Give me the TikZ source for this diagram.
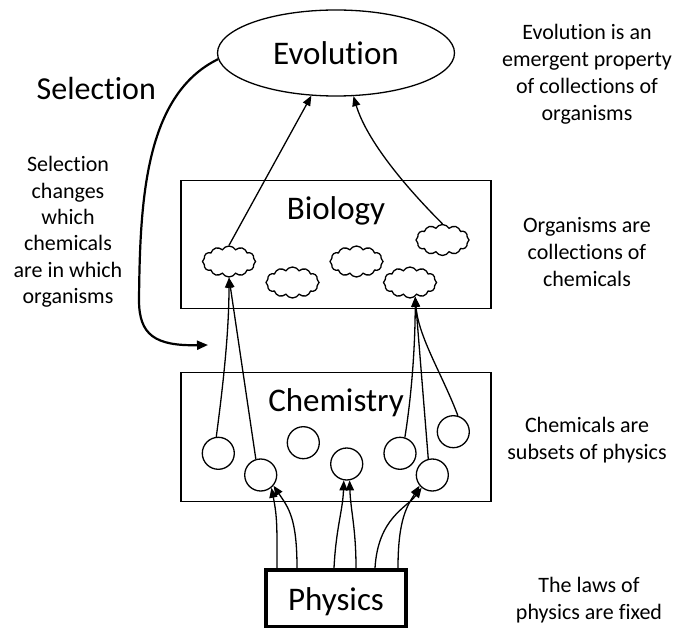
\documentclass[tikz,border=0pt]{standalone}
\usepackage{fontspec}
\setmainfont{Carlito}[Ligatures={NoCommon}]
\usetikzlibrary{shapes.geometric,shapes.symbols,arrows.meta}
\begin{document}
\begin{tikzpicture}[x=1pt,y=-1pt,
  arr/.style={line width=1.3pt,-{Triangle[length=10pt,width=8pt]}},
  bigtext/.style={font=\fontsize{33}{40}\selectfont, inner sep=0pt},
  note/.style={font=\fontsize{22}{27}\selectfont, align=center, inner sep=0pt},
  layer/.style={draw, line width=1.3pt, minimum width=310pt, minimum height=127.5pt, inner sep=0pt},
  molecule/.style={draw, circle, line width=1.3pt, minimum size=32pt, inner sep=0pt},
  organism/.style={draw, cloud, cloud puffs=12, cloud puff arc=120, aspect=1.7,
    minimum width=53pt, minimum height=31pt, inner sep=0pt, line width=1.3pt}
]
\useasboundingbox (0,0) rectangle (674,628);
\fill[white] (0,0) rectangle (674,628);

% top level: evolution
\node[draw, ellipse, line width=1.3pt, minimum width=237pt, minimum height=86pt, bigtext] (evo) at (336,53) {Evolution};
\node[bigtext, font=\fontsize{32}{38}\selectfont, anchor=base west] (sellabel) at (36.5,100) {Selection};

% biology layer with organisms
\node[layer] (bio) at (336,244.5) {};
\node[bigtext, anchor=base] (biolabel) at (336,220) {Biology};
\node[organism] (k1) at (229,261.5) {};
\node[organism] (k2) at (292.5,282.5) {};
\node[organism] (k3) at (356.5,261.5) {};
\node[organism] (k4) at (442.5,240) {};
\node[organism] (k5) at (410,282.5) {};

% chemistry layer with molecules
\node[layer, minimum height=128.5pt] (chem) at (336,437) {};
\node[bigtext, anchor=base] (chemlabel) at (336,411.7) {Chemistry};
\node[molecule] (c1) at (218.3,453.3) {};
\node[molecule] (c2) at (260.7,475) {};
\node[molecule] (c3) at (303.3,442.7) {};
\node[molecule] (c4) at (346.7,464) {};
\node[molecule] (c5) at (400,453.3) {};
\node[molecule] (c6) at (432.3,475) {};
\node[molecule] (c7) at (453.3,431.7) {};

% physics
\node[draw, line width=4pt, minimum width=140pt, minimum height=57pt, bigtext,
  text height=23pt, text depth=0pt] (phys) at (336,598.5) {Physics};

% side notes
\node[note] (evonote) at (587,74) {Evolution is an\\emergent property\\of collections of\\organisms};
\node[note] (orgnote) at (587,252.5) {Organisms are\\collections of\\chemicals};
\node[note] (chemnote) at (587,440.5) {Chemicals are\\subsets of physics};
\node[note] (physnote) at (589,600) {The laws of\\physics are fixed};
\node[note, font=\fontsize{22}{26.4}\selectfont] (selnote) at (68,232) {Selection\\changes\\which\\chemicals\\are in which\\organisms};

% molecules make up organisms
\draw[arr] (c1.97) .. controls +(8,-60) and +(0,50) .. (k1.south);
\draw[arr] (c2.107) -- (k1.south);
\draw[arr] (c5.73) .. controls +(8,-50) and +(0,40) .. (k5.-70);
\draw[arr] (c6.104) -- (k5.-70);
\draw[arr] (c7.74) .. controls +(-15,-40) and +(3,40) .. (k5.-70);

% organisms give rise to evolution
\draw[arr] (k1.north) -- (evo.240);
\draw[arr] (k4.north) .. controls +(-45,-45) and +(12,40) .. (evo.292);

% physics underlies the molecules
\draw[arr] ([xshift=-59pt]phys.north) .. controls +(0,-40) and +(6,30) .. (c2.-50);
\draw[arr] ([xshift=-39pt]phys.north) .. controls +(0,-50) and +(15,22) .. (c2.-40);
\draw[arr] ([xshift=-2pt]phys.north) .. controls +(2,-40) and +(-1,30) .. (c4.-100);
\draw[arr] ([xshift=20pt]phys.north) .. controls +(0,-40) and +(1,30) .. (c4.-80);
\draw[arr] ([xshift=39pt]phys.north) .. controls +(3,-50) and +(-15,20) .. (c6.230);
\draw[arr] ([xshift=62pt]phys.north) .. controls +(0,-50) and +(-12,20) .. (c6.220);

% selection feeds back down to chemistry
\coordinate (selend) at (208,345);
\draw[line width=2.2pt, -{Triangle[length=11pt,width=9pt]}] (evo.183)
  .. controls (145,95) and (140,200) .. (139,300)
  .. controls (139,335) and (155,346) .. (selend);
\end{tikzpicture}
\end{document}
